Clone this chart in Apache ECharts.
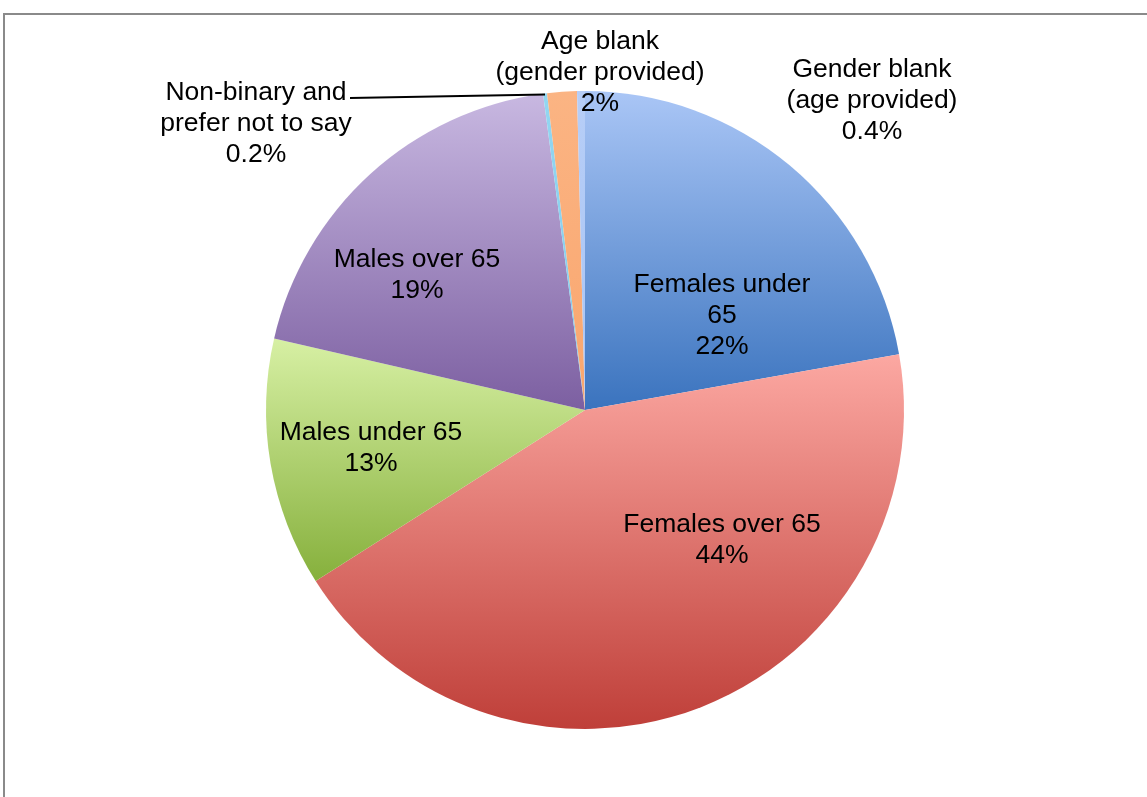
<!DOCTYPE html>
<html>
<head>
<meta charset="utf-8">
<script src="https://cdn.jsdelivr.net/npm/echarts@6/dist/echarts.min.js"></script>
<style>
html,body{margin:0;padding:0;background:#fff;}
#chart{width:1147px;height:797px;}
</style>
</head>
<body>
<div id="chart"></div>
<script>
// Categories in clockwise order starting at 12 o'clock
const categories = [
  'Females under 65',
  'Females over 65',
  'Males under 65',
  'Males over 65',
  'Non-binary and prefer not to say',
  'Age blank (gender provided)',
  'Gender blank (age provided)'
];
// Share of responses (%)
const values = [22.2, 43.8, 12.6, 19.3, 0.2, 1.5, 0.4];
// Label text as printed on the chart
const labelNames = [
  'Females under\n65',
  'Females over 65',
  'Males under 65',
  'Males over 65',
  'Non-binary and\nprefer not to say',
  'Age blank\n(gender provided)',
  'Gender blank\n(age provided)'
];
const labelPercents = ['22%', '44%', '13%', '19%', '0.2%', '2%', '0.4%'];

const colorTop = ['#aac6f6', '#fca8a2', '#d7f0a4', '#c8b8e1', '#93d6f1', '#fbb483', '#b7cef7'];
const colorBottom = ['#3a73be', '#bf3f39', '#86b03c', '#7c5fa1', '#82cdec', '#f9a66e', '#a9c4f4'];

// layout constants
const CX = 585, CY = 410, R = 319;
const labelPos = [
  [722, 316], [722, 540], [371, 448], [417, 275], [256, 124], [600, 73], [872, 101]
];

// leader line for the tiny non-binary slice: from its outer edge to the label
const total = values.reduce((a, b) => a + b, 0);
let cum = 0;
for (let i = 0; i < 4; i++) cum += values[i];
const midFrac = (cum + values[4] / 2) / total;
const midAng = midFrac * 2 * Math.PI; // clockwise from 12 o'clock
const edgeX = CX + R * Math.sin(midAng);
const edgeY = CY - R * Math.cos(midAng);

const chart = echarts.init(document.getElementById('chart'), null, {renderer: 'canvas'});

const data = categories.map((name, i) => ({
  name: name,
  value: values[i],
  itemStyle: {
    color: new echarts.graphic.LinearGradient(0, 0, 0, 1, [
      {offset: 0, color: colorTop[i]},
      {offset: 1, color: colorBottom[i]}
    ])
  },
  label: {formatter: labelNames[i] + '\n' + labelPercents[i]}
}));

chart.setOption({
  animation: false,
  backgroundColor: '#ffffff',
  graphic: [{
    type: 'rect',
    shape: {x: 4, y: 14, width: 1300, height: 900},
    style: {fill: 'none', stroke: '#8a8a8a', lineWidth: 2},
    silent: true,
    z: 0
  }, {
    type: 'line',
    shape: {x1: edgeX, y1: edgeY + 1, x2: 350, y2: 98},
    style: {stroke: '#000000', lineWidth: 2},
    silent: true,
    z: 10
  }],
  series: [{
    type: 'pie',
    center: [CX, CY],
    radius: [0, R],
    startAngle: 90,
    clockwise: true,
    avoidLabelOverlap: false,
    itemStyle: {borderWidth: 0},
    label: {
      show: true,
      position: 'outside',
      fontFamily: 'Liberation Sans, Arial, sans-serif',
      fontSize: 26.5,
      lineHeight: 31,
      color: '#000000',
      align: 'center'
    },
    labelLine: {show: false},
    labelLayout: function (params) {
      const p = labelPos[params.dataIndex];
      return {x: p[0], y: p[1], align: 'center', verticalAlign: 'middle'};
    },
    emphasis: {disabled: true},
    data: data
  }]
});
</script>
</body>
</html>
